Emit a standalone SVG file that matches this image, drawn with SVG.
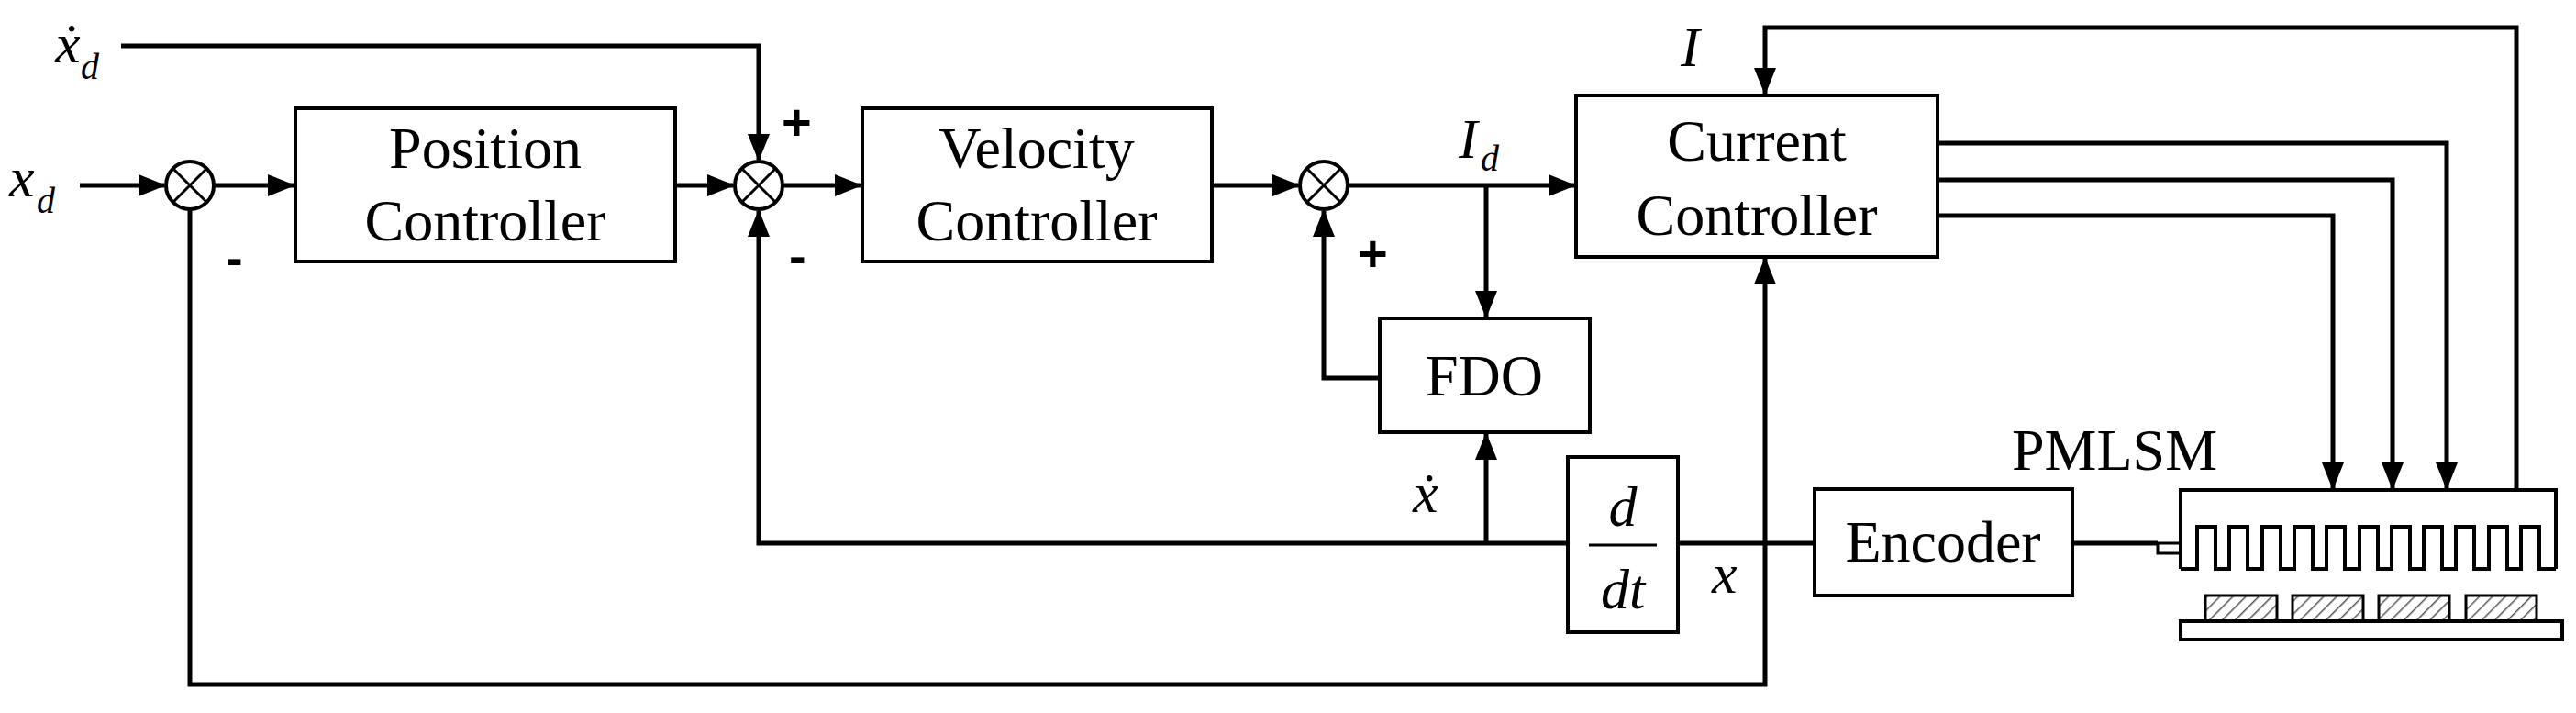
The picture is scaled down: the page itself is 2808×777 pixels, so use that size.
<svg xmlns="http://www.w3.org/2000/svg" width="2808" height="777" viewBox="0 0 2808 777">
<style>
.b{fill:#fff;stroke:#000;stroke-width:4}
.l{fill:none;stroke:#000;stroke-width:5}
.t{font-family:"Liberation Serif",serif;font-size:64px;text-anchor:middle;fill:#000}
.m{font-family:"Liberation Serif",serif;font-style:italic;font-size:62px;fill:#000}
.u{font-family:"Liberation Serif",serif;font-style:italic;font-size:40px;fill:#000}
.s{font-family:"Liberation Sans",sans-serif;font-size:56px;font-weight:bold;fill:#000}
.sum{fill:#fff;stroke:#000;stroke-width:4}
</style>
<defs>
<marker id="a" markerUnits="userSpaceOnUse" markerWidth="30" markerHeight="24" refX="28" refY="12" orient="auto"><path d="M0,0 L30,12 L0,24 Z" fill="#000"/></marker>
<pattern id="h" patternUnits="userSpaceOnUse" width="10" height="10" patternTransform="rotate(45)"><rect width="10" height="10" fill="#fff"/><line x1="0" y1="0" x2="0" y2="10" stroke="#555" stroke-width="3"/></pattern>
</defs>
<rect width="2808" height="777" fill="#fff"/>
<g id="connectors" class="l" marker-end="url(#a)">
<path d="M87,202 H179"/>
<path d="M233,202 H320"/>
<path d="M736,202 H799"/>
<path d="M132,50 H827 V174"/>
<path d="M853,202 H938"/>
<path d="M1321,202 H1415"/>
<path d="M1469,202 H1716"/>
<path d="M1620,202 V345"/>
<path d="M1504,412 H1443 V230"/>
<path d="M1709,592 H827 V230"/>
<path d="M1620,592 V473"/>
<path d="M1829,592 H1976" marker-end="none"/>
<path d="M2259,592 H2352" marker-end="none"/>
<path d="M207,229 V746 H1924 V282"/>
<path d="M2743,534 V30 H1924 V102"/>
<path d="M2112,156 H2667 V532"/>
<path d="M2112,196 H2608 V532"/>
<path d="M2112,235 H2543 V532"/>
</g>
<g id="sum1"><circle class="sum" cx="207" cy="202" r="26"/><path d="M189,184 L225,220 M225,184 L189,220" stroke="#000" stroke-width="3"/></g>
<g id="sum2"><circle class="sum" cx="827" cy="202" r="26"/><path d="M809,184 L845,220 M845,184 L809,220" stroke="#000" stroke-width="3"/></g>
<g id="sum3"><circle class="sum" cx="1443" cy="202" r="26"/><path d="M1425,184 L1461,220 M1461,184 L1425,220" stroke="#000" stroke-width="3"/></g>
<g id="position"><rect class="b" x="322" y="118" width="414" height="167"/><text class="t" x="529" y="183">Position</text><text class="t" x="529" y="262">Controller</text></g>
<g id="velocity"><rect class="b" x="940" y="118" width="381" height="167"/><text class="t" x="1130" y="183">Velocity</text><text class="t" x="1130" y="262">Controller</text></g>
<g id="current"><rect class="b" x="1718" y="104" width="394" height="176"/><text class="t" x="1915" y="175">Current</text><text class="t" x="1915" y="256">Controller</text></g>
<g id="fdo"><rect class="b" x="1504" y="347" width="229" height="124"/><text class="t" x="1618" y="431">FDO</text></g>
<g id="ddt"><rect class="b" x="1709" y="498" width="120" height="191"/><text class="m" x="1769" y="573" text-anchor="middle">d</text><line x1="1732" y1="594" x2="1806" y2="594" stroke="#000" stroke-width="3"/><text class="m" x="1769" y="663" text-anchor="middle">dt</text></g>
<g id="encoder"><rect class="b" x="1978" y="533" width="281" height="116"/><text class="t" x="2118" y="612">Encoder</text></g>
<g id="pmlsm">
<rect x="2352" y="592" width="25" height="11" fill="#fff" stroke="#000" stroke-width="3"/>
<path d="M2377,620 V534 H2786 V620" fill="none" stroke="#000" stroke-width="4"/>
<path d="M2377,620 H2395 V574 H2415 V620 H2430 V574 H2450 V620 H2466 V574 H2486 V620 H2501 V574 H2521 V620 H2536 V574 H2556 V620 H2572 V574 H2592 V620 H2607 V574 H2627 V620 H2642 V574 H2662 V620 H2677 V574 H2697 V620 H2713 V574 H2733 V620 H2748 V574 H2768 V620 H2786" fill="none" stroke="#000" stroke-width="4"/>
<rect x="2404" y="649" width="78" height="28" fill="url(#h)" stroke="#000" stroke-width="3"/>
<rect x="2499" y="649" width="77" height="28" fill="url(#h)" stroke="#000" stroke-width="3"/>
<rect x="2593" y="649" width="77" height="28" fill="url(#h)" stroke="#000" stroke-width="3"/>
<rect x="2688" y="649" width="77" height="28" fill="url(#h)" stroke="#000" stroke-width="3"/>
<rect x="2377" y="677" width="416" height="20" fill="#fff" stroke="#000" stroke-width="4"/>
<text class="t" x="2305" y="512">PMLSM</text>
</g>
<g id="labels">
<text class="m" x="10" y="214">x</text><text class="u" x="40" y="232">d</text>
<text class="m" x="60" y="68">ẋ</text><text class="u" x="88" y="86">d</text>
<text class="m" x="1590" y="172">I</text><text class="u" x="1614" y="186">d</text>
<text class="m" x="1832" y="72">I</text>
<text class="m" x="1540" y="558">ẋ</text>
<text class="m" x="1866" y="646">x</text>
<text class="s" x="246" y="300">-</text>
<text class="s" x="860" y="298">-</text>
<text class="s" x="852" y="152">+</text>
<text class="s" x="1480" y="295">+</text>
</g>
</svg>
